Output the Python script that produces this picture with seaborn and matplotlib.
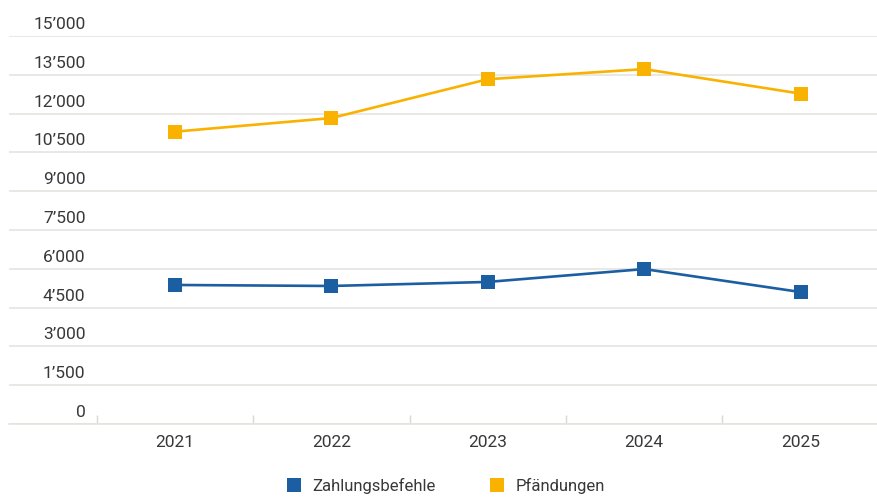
import matplotlib
matplotlib.use("Agg")
import matplotlib.pyplot as plt
import matplotlib.transforms as mtransforms
from matplotlib.lines import Line2D
import seaborn as sns
import pandas as pd

years = [2021, 2022, 2023, 2024, 2025]
zahlungsbefehle = [5375, 5336, 5492, 5990, 5102]
pfaendungen = [11302, 11827, 13329, 13720, 12772]
series_names = ["Zahlungsbefehle", "Pfändungen"]
colors = ["#1b5fa2", "#f9b200"]
y_ticks = [0, 1500, 3000, 4500, 6000, 7500, 9000, 10500, 12000, 13500, 15000]
y_tick_labels = ["0", "1’500", "3’000", "4’500", "6’000", "7’500", "9’000",
                 "10’500", "12’000", "13’500", "15’000"]

df = pd.DataFrame({
    "Jahr": years * 2,
    "Wert": zahlungsbefehle + pfaendungen,
    "Serie": [series_names[0]] * len(years) + [series_names[1]] * len(years),
})

sns.set_theme(style="white")
plt.rcParams["font.family"] = ["Roboto", "DejaVu Sans"]

W, H = 878, 498
fig = plt.figure(figsize=(W / 100, H / 100), dpi=100)
ax = fig.add_axes([9 / W, 74 / H, (878 - 9) / W, (424 - 36) / H])

sns.lineplot(data=df, x="Jahr", y="Wert", hue="Serie", style="Serie",
             palette=colors, markers=["s", "s"], dashes=False,
             markersize=9.5, markeredgewidth=0, linewidth=1.9,
             legend=False, ax=ax)

ax.set_xlim(2021 - 1.061, 2025.495)
ax.set_ylim(0, 15000)
ax.set_xlabel("")
ax.set_ylabel("")

grid_color = "#e4e2dc"
text_color = "#383838"
ax.set_yticks(y_ticks)
ax.set_yticklabels(y_tick_labels)
ax.yaxis.grid(True, color=grid_color, linewidth=1.1)
ax.xaxis.grid(False)
ax.set_axisbelow(True)
ax.tick_params(axis="y", length=0, pad=-55, labelsize=12.5, labelcolor=text_color)
offset = mtransforms.ScaledTranslation(0, 4 / 100, fig.dpi_scale_trans)
for lbl in ax.get_yticklabels():
    lbl.set_verticalalignment("bottom")
    lbl.set_horizontalalignment("right")
    lbl.set_transform(lbl.get_transform() + offset)

ax.set_xticks(years)
ax.set_xticklabels([str(y) for y in years])
ax.set_xticks([y - 0.5 for y in years], minor=True)
ax.tick_params(axis="x", which="major", length=0, pad=8, labelsize=12.5,
               labelcolor=text_color)
ax.tick_params(axis="x", which="minor", bottom=True, length=6.5, width=1,
               direction="in", color="#d9d7d0")

for s in ["top", "right", "left"]:
    ax.spines[s].set_visible(False)
ax.spines["bottom"].set_color(grid_color)
ax.spines["bottom"].set_linewidth(1.1)

handles = [Line2D([], [], linestyle="none", marker="s", markersize=10.5,
                  markeredgewidth=0, color=c) for c in colors]
fig.legend(handles, series_names, loc="center", ncol=2,
           bbox_to_anchor=(445 / W, 12 / H), frameon=False,
           fontsize=12, handletextpad=0.6, columnspacing=3.2,
           labelcolor=text_color, handlelength=1.0)

fig.savefig("out.png", dpi=100)
